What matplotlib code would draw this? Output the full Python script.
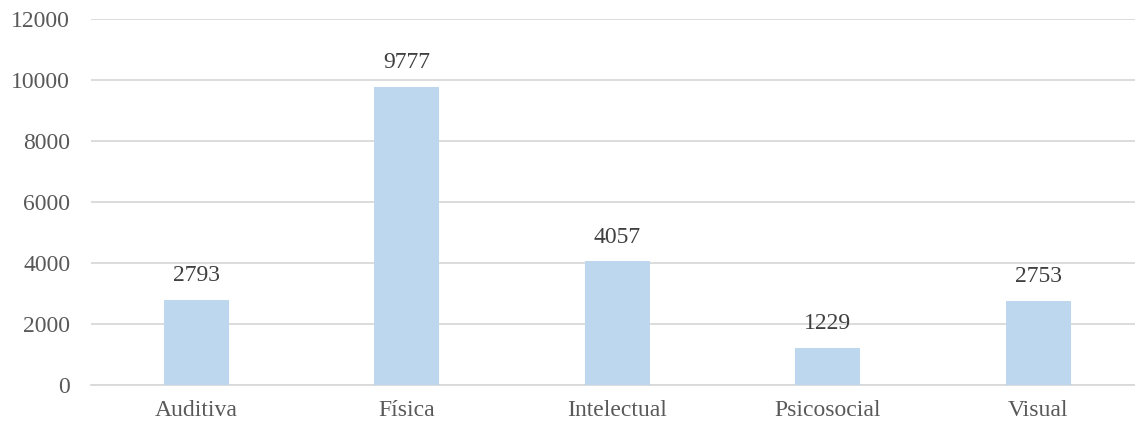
import matplotlib.pyplot as plt
import numpy as np

categorias = ['Auditiva', 'Física', 'Intelectual', 'Psicosocial', 'Visual']
valores = [2793, 9777, 4057, 1229, 2753]

plt.rcParams['font.family'] = ['Liberation Serif', 'DejaVu Serif']

fig = plt.figure(figsize=(11.35, 4.26), dpi=100)
ax = fig.add_axes([91 / 1135, 1 - 385 / 426, 1 - 91 / 1135, (385 - 19) / 426])

x = np.arange(len(categorias))
bars = ax.bar(x, valores, width=0.31, color='#BDD7EE', zorder=3)

for xi, v in zip(x, valores):
    ax.text(xi, v + 450, str(v), ha='center', va='bottom', fontsize=17, color='#404040')

ax.set_xlim(-0.5, 4.46)
ax.set_ylim(0, 12000)
ax.set_yticks(np.arange(0, 12001, 2000))
ax.set_xticks(x)
ax.set_xticklabels(categorias)
ax.grid(axis='y', color='#D9D9D9', linewidth=1.3, zorder=0)
ax.tick_params(length=0, labelsize=17, labelcolor='#595959')
ax.tick_params(axis='y', pad=15)
ax.tick_params(axis='x', pad=11)
for s in ['top', 'right', 'left']:
    ax.spines[s].set_visible(False)
ax.spines['bottom'].set_color('#D9D9D9')
ax.spines['bottom'].set_linewidth(1.3)

fig.savefig('out.png', dpi=100)
